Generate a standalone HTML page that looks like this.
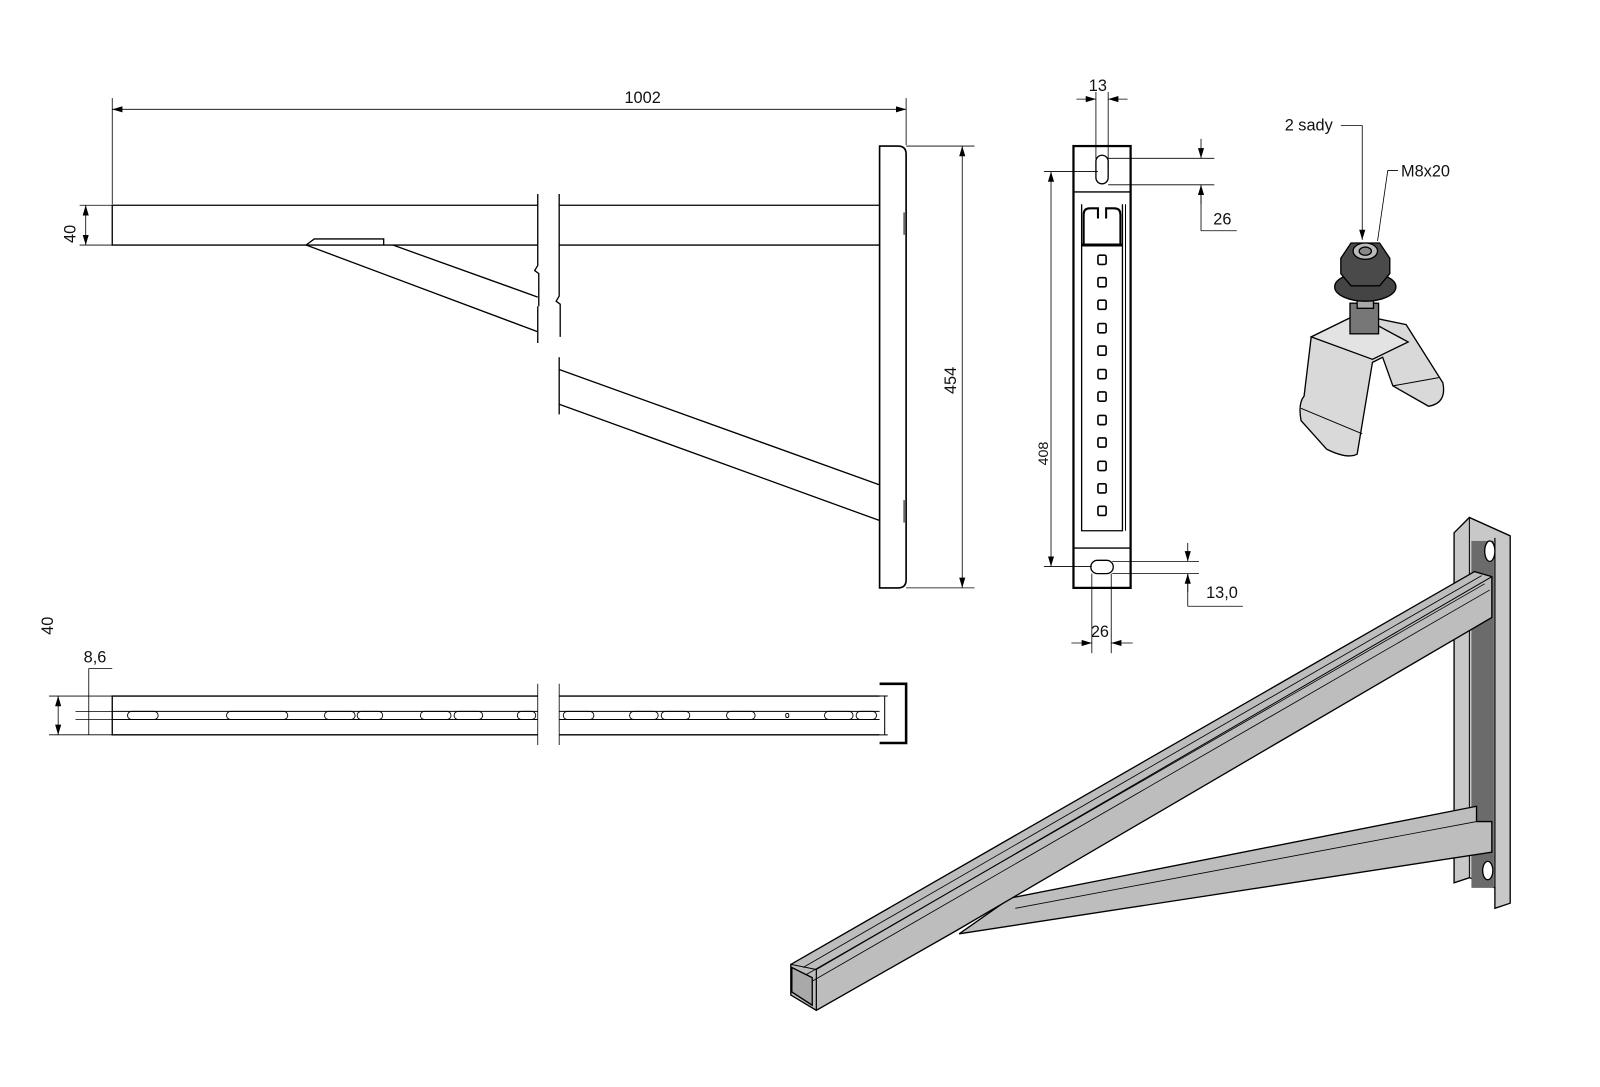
<!DOCTYPE html>
<html><head><meta charset="utf-8"><style>
html,body{margin:0;padding:0;background:#fff;}
svg{display:block;}
text{font-family:"Liberation Sans","DejaVu Sans",sans-serif;fill:#111;}
</style></head><body>
<svg width="1600" height="1087" viewBox="0 0 1568 1065" xmlns="http://www.w3.org/2000/svg">
<defs>
<marker id="a" viewBox="0 0 10 6" refX="10" refY="3" markerWidth="10" markerHeight="6" orient="auto-start-reverse" markerUnits="userSpaceOnUse"><path d="M0,0 L10,3 L0,6 z" fill="#000"/></marker>
</defs>
<rect width="1568" height="1065" fill="#fff"/>
<g stroke="#000" fill="none" stroke-width="1.3">
<line x1="110" y1="96" x2="110" y2="200" stroke-width="0.8"/>
<line x1="888" y1="96" x2="888" y2="142" stroke-width="0.8"/>
<line x1="110" y1="107" x2="888" y2="107" stroke-width="0.8" marker-start="url(#a)" marker-end="url(#a)"/>
<line x1="78" y1="201" x2="110" y2="201" stroke-width="0.8"/>
<line x1="78" y1="240" x2="110" y2="240" stroke-width="0.8"/>
<line x1="84" y1="201" x2="84" y2="240" stroke-width="0.8" marker-start="url(#a)" marker-end="url(#a)"/>
<path d="M527,201 H110 V240 H527"/>
<path d="M548,201 H862 M548,240 H862"/>
<path d="M527,190 V260 l-3,5 l4,3 V300 M548,190 V290 l-3,5 l4,3 V330"/>
<path d="M527,300 V336 M548,350 V406"/>
<path d="M300,240 l8,-6 H376 v6"/>
<line x1="300" y1="240" x2="527" y2="325"/>
<line x1="385" y1="240" x2="527" y2="291"/>
<line x1="548" y1="362" x2="862" y2="475"/>
<line x1="548" y1="396" x2="862" y2="510"/>
<path d="M862,143 H880 Q888,143 888,151 V568 Q888,576 880,576 H862 Z" stroke-width="1.6"/>
<line x1="886" y1="208" x2="886" y2="230" stroke-width="1"/>
<line x1="886" y1="490" x2="886" y2="512" stroke-width="1"/>
<line x1="888" y1="143" x2="955" y2="143" stroke-width="0.8"/>
<line x1="888" y1="576" x2="955" y2="576" stroke-width="0.8"/>
<line x1="943" y1="143" x2="943" y2="576" stroke-width="0.8" marker-start="url(#a)" marker-end="url(#a)"/>

<line x1="48" y1="682" x2="110" y2="682" stroke-width="0.8"/>
<line x1="48" y1="720" x2="110" y2="720" stroke-width="0.8"/>
<line x1="57" y1="682" x2="57" y2="720" stroke-width="0.8" marker-start="url(#a)" marker-end="url(#a)"/>
<line x1="74" y1="697" x2="110" y2="697" stroke-width="0.8"/>
<line x1="74" y1="705" x2="110" y2="705" stroke-width="0.8"/>
<line x1="87" y1="655" x2="87" y2="720" stroke-width="0.8"/>
<line x1="87" y1="655" x2="110" y2="655" stroke-width="0.8"/>
<path d="M527,682 H110 V720 H527 M548,682 H862 M548,720 H862"/>
<path d="M527,670 V730 M548,670 V730" stroke-width="0.8"/>
<path d="M110,697 H527 M110,705 H527 M548,697 H862 M548,705 H862" stroke-width="0.9"/>
<g stroke-width="0.9">
<rect x="125" y="697" width="30" height="8" rx="4"/>
<rect x="222" y="697" width="60" height="8" rx="4"/>
<rect x="318" y="697" width="30" height="8" rx="4"/>
<rect x="350" y="697" width="25" height="8" rx="4"/>
<rect x="412" y="697" width="30" height="8" rx="4"/>
<rect x="445" y="697" width="28" height="8" rx="4"/>
<rect x="507" y="697" width="18" height="8" rx="4"/>
<rect x="552" y="697" width="30" height="8" rx="4"/>
<rect x="617" y="697" width="28" height="8" rx="4"/>
<rect x="648" y="697" width="28" height="8" rx="4"/>
<rect x="712" y="697" width="28" height="8" rx="4"/>
<rect x="770" y="699" width="3" height="4" rx="1.5"/>
<rect x="808" y="697" width="28" height="8" rx="4"/>
<rect x="839" y="697" width="20" height="8" rx="4"/>
</g>
<path d="M862,670 H888 V728 H862" stroke-width="2.5"/>
<path d="M867,682 V720 M862,682 H870 M862,720 H870" stroke-width="1"/>

<rect x="1052" y="143" width="56" height="433" stroke-width="2.2"/>
<line x1="1052" y1="188" x2="1108" y2="188"/>
<line x1="1052" y1="537" x2="1108" y2="537"/>
<rect x="1074" y="152" width="12" height="28" rx="6"/>
<rect x="1069" y="549" width="22" height="13" rx="6.5"/>
<path d="M1060,200 V520 H1100 V200" stroke-width="1.3"/>
<path d="M1060,240 H1100" stroke-width="3"/>
<path d="M1062,240 V210 Q1062,204 1068,204 H1076 V214" stroke-width="2"/>
<path d="M1098,240 V210 Q1098,204 1092,204 H1084 V214" stroke-width="2"/>
<line x1="1103" y1="200" x2="1103" y2="520" stroke-width="1"/>
<g stroke-width="1.6">
<rect x="1076" y="250" width="8" height="9" rx="1.5"/>
<rect x="1076" y="272" width="8" height="9" rx="1.5"/>
<rect x="1076" y="294" width="8" height="9" rx="1.5"/>
<rect x="1076" y="317" width="8" height="9" rx="1.5"/>
<rect x="1076" y="339" width="8" height="9" rx="1.5"/>
<rect x="1076" y="362" width="8" height="9" rx="1.5"/>
<rect x="1076" y="384" width="8" height="9" rx="1.5"/>
<rect x="1076" y="407" width="8" height="9" rx="1.5"/>
<rect x="1076" y="429" width="8" height="9" rx="1.5"/>
<rect x="1076" y="452" width="8" height="9" rx="1.5"/>
<rect x="1076" y="474" width="8" height="9" rx="1.5"/>
<rect x="1076" y="496" width="8" height="9" rx="1.5"/>
</g>
<g stroke-width="0.8">
<line x1="1074" y1="90" x2="1074" y2="165"/><line x1="1086" y1="90" x2="1086" y2="165"/>
<line x1="1055" y1="97" x2="1074" y2="97" marker-end="url(#a)"/><line x1="1105" y1="97" x2="1086" y2="97" marker-end="url(#a)"/>
<line x1="1086" y1="155" x2="1190" y2="155"/><line x1="1086" y1="181" x2="1190" y2="181"/>
<line x1="1177" y1="136" x2="1177" y2="155" marker-end="url(#a)"/>
<line x1="1177" y1="200" x2="1177" y2="181" marker-end="url(#a)"/>
<line x1="1177" y1="181" x2="1177" y2="226"/><line x1="1177" y1="226" x2="1212" y2="226"/>
<line x1="1023" y1="168" x2="1076" y2="168"/><line x1="1023" y1="555" x2="1070" y2="555"/>
<line x1="1030" y1="168" x2="1030" y2="555" marker-start="url(#a)" marker-end="url(#a)"/>
<line x1="1090" y1="550" x2="1175" y2="550"/><line x1="1090" y1="562" x2="1175" y2="562"/>
<line x1="1164" y1="532" x2="1164" y2="550" marker-end="url(#a)"/>
<line x1="1164" y1="580" x2="1164" y2="562" marker-end="url(#a)"/>
<line x1="1164" y1="562" x2="1164" y2="594"/><line x1="1164" y1="594" x2="1218" y2="594"/>
<line x1="1070" y1="562" x2="1070" y2="640"/><line x1="1089" y1="562" x2="1089" y2="640"/>
<line x1="1050" y1="630" x2="1070" y2="630" marker-end="url(#a)"/><line x1="1110" y1="630" x2="1089" y2="630" marker-end="url(#a)"/>
</g>

<path d="M1314,123 H1335 V235" stroke-width="0.8" marker-end="url(#a)"/>
<path d="M1370,167 H1360 L1350,236" stroke-width="0.8"/>
<path d="M1285,330 L1330,308 L1378,318 L1414,375 Q1418,395 1400,398 L1365,378 L1355,350 L1345,355 L1330,445 Q1320,450 1300,440 L1275,412 Q1272,395 1278,388 Z" fill="#d9d9d9"/>
<path d="M1285,330 L1345,352 L1380,335 L1330,308 Z" fill="#e3e3e3"/>
<path d="M1275,400 L1335,425" stroke-width="1"/>
<path d="M1365,378 L1410,370" stroke-width="1"/>
<rect x="1323" y="297" width="28" height="30" fill="#777"/>
<rect x="1330" y="280" width="16" height="22" fill="#aaa"/>
<ellipse cx="1338" cy="281" rx="30" ry="14" fill="#444"/>
<path d="M1314,253 L1324,238 H1352 L1362,253 V268 L1352,280 H1324 L1314,268 Z" fill="#4a4a4a"/>
<ellipse cx="1338" cy="246" rx="12" ry="8" fill="#bbb"/>
<ellipse cx="1338" cy="246" rx="6" ry="4" fill="#888"/>

<path d="M1425,522 L1440,507 L1480,525 L1480,885 L1465,890 L1465,870 L1440,860 L1425,865 Z" fill="#c8c8c8"/>
<path d="M1440,507 V860" stroke-width="1"/>
<path d="M1465,527 V870" stroke-width="1.2"/>
<rect x="1442" y="530" width="22" height="340" fill="#6b6b6b" stroke="none"/>
<ellipse cx="1460" cy="540" rx="5" ry="10" fill="#fff"/>
<ellipse cx="1458" cy="853" rx="5" ry="9" fill="#fff"/>
<path d="M990,880 L1447,790 L1447,805 L1462,805 L1462,835 L940,915 Z" fill="#bdbdbd"/>
<line x1="995" y1="890" x2="1447" y2="805" stroke-width="0.8"/>
<path d="M775,945 L1445,560 L1462,565 L1462,605 L937,912 L800,990 L775,975 Z" fill="#bdbdbd"/>
<path d="M775,945 L800,950 L1462,565" stroke-width="1"/>
<path d="M800,950 L800,990" stroke-width="1.2"/>
<path d="M787,948 L1452,564 M790,955 L1455,572 M795,962 L1460,578" stroke-width="0.8"/>
<path d="M776,948 V972 L796,985 V958 Z" fill="#a9a9a9"/>
</g>
<g font-size="16">
<text x="612" y="101">1002</text>
<text x="1067" y="89">13</text>
<text x="1189" y="220">26</text>
<text x="1182" y="586">13,0</text>
<text x="1069" y="624">26</text>
<text x="1259" y="128">2 sady</text>
<text x="1373" y="173">M8x20</text>
<text x="82" y="649">8,6</text>
<text transform="translate(74,238) rotate(-90)">40</text>
<text transform="translate(52,622) rotate(-90)">40</text>
<text transform="translate(937,386) rotate(-90)">454</text>
<text transform="translate(1027,456) rotate(-90)" font-size="14">408</text>
</g>
</svg>
</body></html>
